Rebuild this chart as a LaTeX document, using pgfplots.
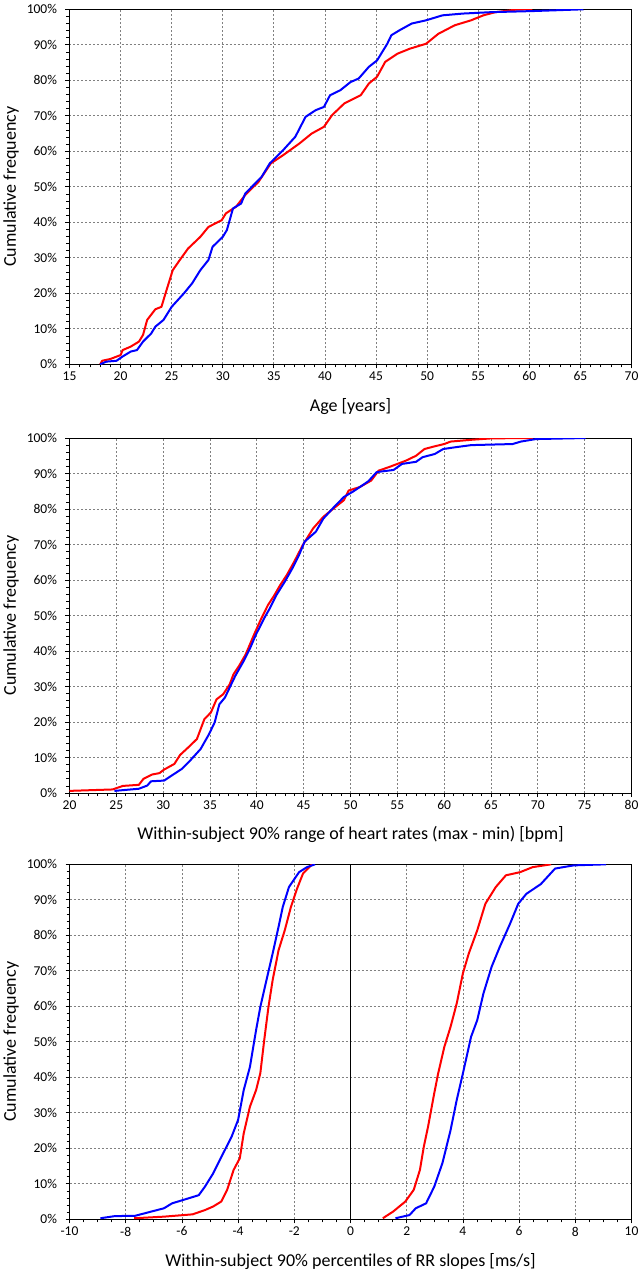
\documentclass[border=0pt]{standalone}
\usepackage{fontspec}
\setmainfont{Carlito}
\usepackage{pgfplots}
\pgfplotsset{compat=1.18}
\definecolor{cred}{RGB}{255,0,0}
\definecolor{cblue}{RGB}{0,0,255}
\definecolor{gridgray}{RGB}{128,128,128}
\pgfplotsset{
  cdf/.style={
    scale only axis, width=562pt, height=355pt,
    anchor=south west,
    ymin=0, ymax=100, ytick={0,10,...,100},
    minor ytick={2,4,...,98},
    yticklabel={\pgfmathprintnumber{\tick}\%},
    /pgf/number format/assume math mode=true,
    grid=major,
    major grid style={dash pattern=on 2pt off 2pt, gridgray, line width=0.8pt},
    tick align=outside, tick pos=left,
    major tick length=4pt, minor tick length=3pt,
    every tick/.style={black, line width=0.8pt},
    axis line style={line width=0.9pt, black},
    tick label style={font=\fontsize{13.5}{16}\selectfont},
    label style={font=\fontsize{18}{21}\selectfont},
    ylabel={Cumulative frequency},
    ylabel style={at={(axis description cs:-0.104,0.5)}, anchor=center, rotate=0},
    xlabel style={at={(axis description cs:0.5,-0.118)}, anchor=center},
    yticklabel style={xshift=-5pt},
    every axis plot/.append style={line width=2pt, no marks, line join=round},
  }
}
\begin{document}
\begin{tikzpicture}
\useasboundingbox (0pt,0pt) rectangle (642pt,-1272pt);
% ---------------- Panel 1 ----------------
\begin{axis}[cdf, at={(69.5pt,-364.3pt)},
  xmin=15, xmax=70, xtick={15,20,...,70}, minor xtick={15,...,70},
  xlabel={Age [years]}]
\addplot[cred] coordinates {
(18.0,0) (18.2,1.0) (19.0,1.5) (20.0,2.6) (20.2,4.0) (21.0,5.0) (21.8,6.4) (22.2,8.3)
(22.6,12.5) (23.4,15.5) (24.0,16.2) (24.4,20.0) (24.8,23.7) (25.1,26.5) (25.8,29.4)
(26.6,32.6) (27.8,35.9) (28.6,38.7) (29.9,40.6) (30.3,42.5) (31.3,44.4) (32.2,47.7)
(33.5,51.4) (34.7,56.6) (35.9,58.9) (37.5,62.2) (38.7,65.0) (39.9,66.9) (40.7,70.2)
(41.9,73.5) (43.5,75.8) (44.3,79.1) (45.1,81.0) (45.9,85.2) (47.1,87.5) (48.3,88.9)
(49.9,90.3) (51.1,93.1) (52.7,95.5) (54.3,96.9) (55.5,98.3) (56.7,99.2) (58.7,99.9)
(60.3,100)
};
\addplot[cblue] coordinates {
(18.0,0) (18.6,0.75) (19.6,1.0) (20.2,2.2) (21.0,3.6) (21.6,4.0) (22.2,6.4) (23.0,8.7)
(23.4,10.6) (24.2,12.5) (25.0,16.2) (26.2,20.0) (27.0,22.8) (27.8,26.5) (28.6,29.4)
(29.0,33.1) (30.0,35.9) (30.4,37.8) (31.0,43.9) (31.8,45.3) (32.2,48.1) (33.8,52.8)
(34.6,56.6) (35.9,60.3) (37.1,64.1) (38.1,69.7) (39.1,71.6) (39.9,72.5) (40.5,75.8)
(41.5,77.2) (42.5,79.5) (43.3,80.5) (44.3,83.8) (45.1,85.6) (46.1,90.3) (46.5,92.7)
(47.3,94.1) (48.5,96.0) (49.9,96.9) (51.5,98.3) (53.5,98.8) (56.3,99.2) (60.3,99.5)
(65.3,100)
};
\end{axis}
% ---------------- Panel 2 ----------------
\begin{axis}[cdf, at={(69.5pt,-793pt)},
  xmin=20, xmax=80, xtick={20,25,...,80}, minor xtick={20,...,80},
  xlabel={Within-subject 90\% range of heart rates (max - min) [bpm]}]
\addplot[cred] coordinates {
(20.0,0.6) (24.6,1.0) (25.7,2.0) (27.4,2.3) (27.9,4.0) (28.8,5.2) (29.6,5.6) (30.1,6.6)
(31.2,8.2) (31.8,10.7) (32.7,12.9) (33.6,15.2) (34.4,20.8) (35.1,22.7) (35.7,26.4)
(36.4,27.8) (37.1,30.6) (37.5,33.4) (38.1,35.8) (38.8,39.0) (39.7,44.6) (40.5,49.3)
(41.2,53.0) (41.8,55.4) (42.5,58.6) (43.2,61.4) (44.0,65.2) (44.9,69.8) (46.0,74.5)
(47.1,77.8) (48.4,80.6) (49.3,82.5) (49.8,85.2) (51.0,86.2) (52.2,88.0) (53.0,90.8)
(54.1,91.8) (55.0,92.7) (55.9,93.6) (57.0,95.0) (57.9,96.9) (58.9,97.6) (60.0,98.3)
(60.7,99.0) (62.9,99.5) (65.1,99.9) (69.5,100)
};
\addplot[cblue] coordinates {
(24.8,0.6) (27.4,1.2) (28.3,2.1) (28.7,3.3) (30.1,3.5) (30.9,4.9) (32.0,6.8) (32.9,9.2)
(34.0,12.4) (34.9,16.6) (35.5,19.9) (36.0,25.0) (36.6,26.9) (37.1,29.7) (37.7,33.0)
(38.6,37.2) (39.3,40.9) (39.9,44.6) (40.8,49.3) (41.4,52.1) (42.1,55.8) (43.0,59.6)
(43.8,63.3) (44.5,67.0) (45.1,70.8) (46.3,73.6) (47.1,77.3) (48.4,81.0) (49.3,83.4)
(50.2,84.8) (51.0,86.2) (51.9,87.8) (52.8,90.4) (54.6,91.0) (55.5,92.7) (57.0,93.3)
(57.7,94.6) (59.0,95.5) (59.9,96.9) (61.2,97.4) (62.9,98.0) (67.3,98.3) (68.2,99.0)
(69.8,99.7) (75.1,100)
};
\end{axis}
% ---------------- Panel 3 ----------------
\begin{axis}[cdf, at={(69.5pt,-1219.3pt)},
  xmin=-10, xmax=10, xtick={-10,-8,-6,-4,-2,2,4,6,8,10}, minor xtick={-10,-9.5,...,10},
  extra x ticks={0},
  extra x tick style={major grid style={solid, black, line width=1pt}},
  xlabel={Within-subject 90\% percentiles of RR slopes [ms/s]}]
\addplot[cred] coordinates {
(-7.7,0.3) (-6.64,0.75) (-5.62,1.4) (-5.18,2.6) (-4.89,3.6) (-4.6,5.0) (-4.39,8.3)
(-4.16,13.9) (-3.94,17.2) (-3.8,24.2) (-3.58,31.7) (-3.36,36.4) (-3.21,41.1) (-3.07,50.5)
(-2.92,59.8) (-2.77,67.4) (-2.56,75.8) (-2.34,81.4) (-2.12,88.0) (-1.9,93.2) (-1.69,97.4)
(-1.52,98.8) (-1.37,100)
};
\addplot[cblue] coordinates {
(-8.9,0.3) (-8.39,0.9) (-7.66,1.0) (-7.08,2.2) (-6.64,3.1) (-6.35,4.5) (-5.77,5.9)
(-5.4,6.8) (-5.18,9.2) (-4.89,12.9) (-4.53,18.6) (-4.23,23.3) (-4.0,28.0) (-3.8,36.4)
(-3.58,42.9) (-3.36,53.3) (-3.21,59.8) (-2.99,67.4) (-2.77,74.9) (-2.56,82.4) (-2.41,88.0)
(-2.19,93.6) (-1.83,97.8) (-1.55,99.2) (-1.26,100)
};
\addplot[cred] coordinates {
(1.15,0.3) (1.52,2.2) (1.95,5.0) (2.25,8.3) (2.47,13.9) (2.61,20.5) (2.76,26.1) (2.98,35.5)
(3.12,41.1) (3.34,48.6) (3.56,54.2) (3.78,60.8) (4.0,69.3) (4.21,74.9) (4.51,81.4)
(4.8,88.9) (5.17,93.6) (5.53,96.9) (6.04,97.8) (6.48,99.2) (7.14,100)
};
\addplot[cblue] coordinates {
(1.6,0.3) (2.1,1.2) (2.32,3.1) (2.69,4.5) (2.98,9.2) (3.27,15.8) (3.56,25.1) (3.78,33.6)
(4.0,41.1) (4.29,51.4) (4.51,56.1) (4.73,63.6) (5.02,71.1) (5.31,76.7) (5.68,83.3)
(5.97,88.9) (6.26,91.7) (6.77,94.4) (7.28,98.8) (7.94,99.7) (9.1,100)
};
\end{axis}
\end{tikzpicture}
\end{document}
